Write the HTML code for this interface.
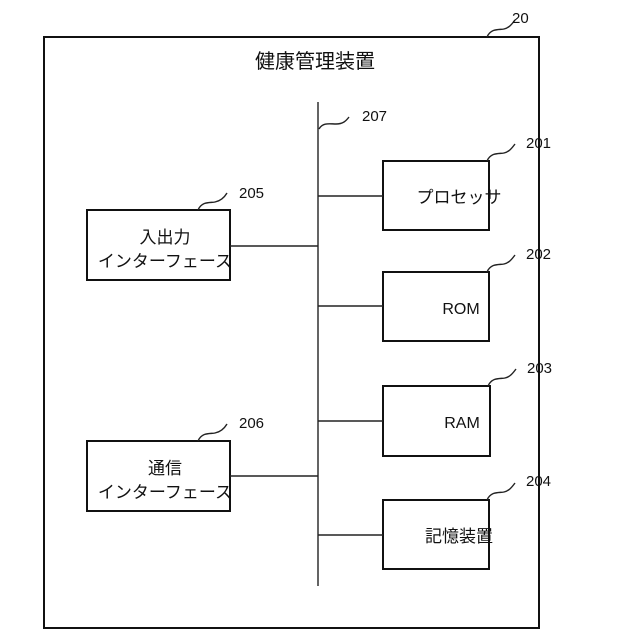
<!DOCTYPE html>
<html><head><meta charset="utf-8"><style>
html,body{margin:0;padding:0;background:#fff}
svg{display:block}
text{font-family:"Liberation Sans","Noto Sans CJK JP",sans-serif;fill:#111}
</style></head><body>
<svg width="640" height="640" viewBox="0 0 640 640" xmlns="http://www.w3.org/2000/svg">
<g fill="none" stroke="#111" stroke-width="2">
<rect x="44" y="37" width="495" height="591"/>
<rect x="383" y="161" width="106" height="69"/>
<rect x="383" y="272" width="106" height="69"/>
<rect x="383" y="386" width="107" height="70"/>
<rect x="383" y="500" width="106" height="69"/>
<rect x="87" y="210" width="143" height="70"/>
<rect x="87" y="441" width="143" height="70"/>
</g>
<g fill="none" stroke="#222" stroke-width="1.4">
<line x1="318" y1="102" x2="318" y2="586"/>
<line x1="318" y1="196" x2="383" y2="196"/>
<line x1="230" y1="246" x2="318" y2="246"/>
<line x1="318" y1="306" x2="383" y2="306"/>
<line x1="318" y1="421" x2="383" y2="421"/>
<line x1="230" y1="476" x2="318" y2="476"/>
<line x1="318" y1="535" x2="383" y2="535"/>
<path d="M487 37 C491 28,499 30,504 29 C509 28,512 24,515 20"/>
<path d="M319 129 C323 122,330 124,336 124 C343 124,346 121,349 117"/>
<path d="M198 210 C202 201,210 203,215 202 C220 201,224 198,227 193"/>
<path d="M198 441 C202 432,210 434,215 433 C220 432,224 429,227 424"/>
<path d="M487 161 C491 152,499 154,504 153 C509 152,512 148,515 144"/>
<path d="M487 272 C491 263,499 265,504 264 C509 263,512 259,515 255"/>
<path d="M488 386 C492 377,500 379,505 378 C510 377,513 373,516 369"/>
<path d="M487 500 C491 491,499 493,504 492 C509 491,512 487,515 483"/>
</g>
<g font-size="15">
<text x="512" y="23">20</text>
<text x="362" y="121">207</text>
<text x="526" y="148">201</text>
<text x="526" y="259">202</text>
<text x="527" y="373">203</text>
<text x="526" y="486">204</text>
<text x="239" y="198">205</text>
<text x="239" y="428">206</text>
</g>
<g font-size="17" text-anchor="middle">
<text x="315" y="68" font-size="20">健康管理装置</text>
<text x="459" y="203">プロセッサ</text>
<text x="461" y="314" font-size="16">ROM</text>
<text x="462" y="428" font-size="16">RAM</text>
<text x="459" y="542">記憶装置</text>
<text x="165" y="243">入出力</text>
<text x="165" y="267">インターフェース</text>
<text x="165" y="474">通信</text>
<text x="165" y="498">インターフェース</text>
</g>
</svg>
</body></html>
